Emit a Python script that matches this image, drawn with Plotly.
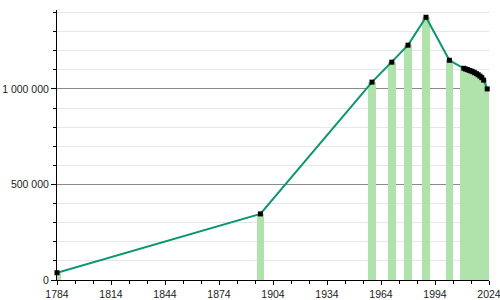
import plotly.graph_objects as go

years = [1784, 1897, 1959, 1970, 1979, 1989, 2002,
         2010, 2011, 2012, 2013, 2014, 2015, 2016, 2017, 2018, 2019, 2020, 2021, 2023]
population = [38000, 346000, 1035500, 1140000, 1229000, 1375000, 1150000,
              1108000, 1104000, 1101000, 1097000, 1094000, 1090000, 1085000,
              1080000, 1074000, 1067000, 1059000, 1046000, 1000000]

x_tick_vals = [1784, 1814, 1844, 1874, 1904, 1934, 1964, 1994, 2024]
x_tick_text = [str(v) for v in x_tick_vals]
y_tick_vals = [0, 500000, 1000000]
y_tick_text = ["0", "500 000", "1 000 000"]

fig = go.Figure()
fig.add_trace(go.Bar(
    x=years, y=population, width=4.3,
    marker=dict(color="#b0e2ab", line=dict(width=0)),
    hoverinfo="skip", showlegend=False,
))
fig.add_trace(go.Scatter(
    x=years, y=population, mode="lines+markers",
    line=dict(color="#0a9670", width=2),
    marker=dict(symbol="square", size=5, color="black"),
    showlegend=False, cliponaxis=False,
))

fig.update_layout(
    width=500, height=300,
    margin=dict(l=57, r=11, t=10, b=20, autoexpand=False),
    paper_bgcolor="white", plot_bgcolor="white",
    barmode="overlay", bargap=0,
    font=dict(family="Liberation Sans, Arial, sans-serif", size=10.5, color="#222"),
)
fig.update_xaxes(
    range=[1784, 2024], tickvals=x_tick_vals, ticktext=x_tick_text,
    automargin=False, ticklabeloverflow="allow",
    showgrid=False, zeroline=False,
    showline=True, linecolor="black", linewidth=1,
    ticks="outside", ticklen=4, tickcolor="black",
    minor=dict(dtick=10, tick0=1784, ticks="outside", ticklen=3, tickcolor="black", showgrid=False),
)
fig.update_yaxes(
    range=[0, 1413000], tickvals=y_tick_vals, ticktext=y_tick_text,
    automargin=False, ticklabeloverflow="allow",
    showgrid=True, gridcolor="#8a8a8a", gridwidth=1, zeroline=False,
    showline=True, linecolor="black", linewidth=1,
    ticks="outside", ticklen=5, tickcolor="black",
    minor=dict(dtick=100000, tick0=0, ticks="outside", ticklen=3, tickcolor="black",
               showgrid=True, gridcolor="#e6e6e6", gridwidth=1),
)

fig.write_html("out.html")
